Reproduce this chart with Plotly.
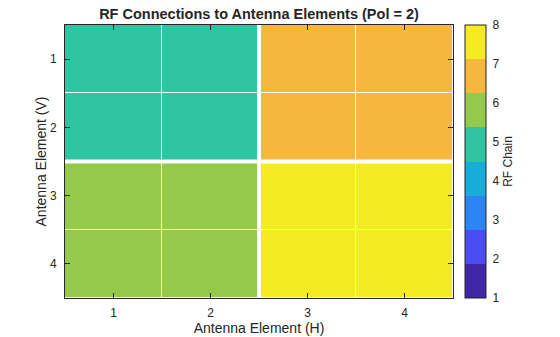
import plotly.graph_objects as go

# Data
h_elements = [1, 2, 3, 4]
v_elements = [1, 2, 3, 4]
rf_chain = [
    [5, 5, 7, 7],
    [5, 5, 7, 7],
    [6, 6, 8, 8],
    [6, 6, 8, 8],
]
cbar_ticks = [1, 2, 3, 4, 5, 6, 7, 8]
parula8 = ["#3F27A8", "#4A4DF2", "#2D85F5", "#17ADD8",
           "#2FC5A2", "#94CA4B", "#F6B83C", "#F5EB22"]

n = len(parula8)
colorscale = []
for i, c in enumerate(parula8):
    colorscale.append([i / n, c])
    colorscale.append([(i + 1) / n, c])

font_family = "Liberation Sans, Arial, Helvetica, sans-serif"
txt = "#262626"

fig = go.Figure(go.Heatmap(
    x=h_elements, y=v_elements, z=rf_chain,
    zmin=1, zmax=8, colorscale=colorscale,
    xgap=1, ygap=1,
    colorbar=dict(
        thickness=21, thicknessmode="pixels",
        len=1.0, lenmode="fraction",
        x=1.031, xanchor="left", xpad=0,
        y=0.5, yanchor="middle", ypad=0,
        outlinewidth=1, outlinecolor="#262626",
        tickvals=cbar_ticks, ticks="outside", ticklen=4,
        tickcolor="rgba(0,0,0,0)",
        tickfont=dict(size=12, color=txt, family=font_family),
        title=dict(text="RF Chain", side="right",
                   font=dict(size=12, color=txt, family=font_family)),
    ),
))

# block separators
for pos in [2.5]:
    fig.add_shape(type="line", xref="x", yref="paper", x0=pos, x1=pos, y0=0, y1=1,
                  line=dict(color="white", width=4))
    fig.add_shape(type="line", xref="paper", yref="y", x0=0, x1=1, y0=pos, y1=pos,
                  line=dict(color="white", width=4))

axis_common = dict(
    showline=True, linecolor="#262626", linewidth=1, mirror="ticks",
    ticks="inside", ticklen=5, tickcolor="#262626",
    tickfont=dict(size=12, color=txt, family=font_family),
    showgrid=False, zeroline=False, automargin=False,
    tickvals=[1, 2, 3, 4],
)

fig.update_layout(
    width=560, height=337,
    margin=dict(l=65, r=107, t=25, b=39),
    paper_bgcolor="white", plot_bgcolor="white",
    font=dict(family=font_family, color=txt),
    title=dict(text="<b>RF Connections to Antenna Elements (Pol = 2)</b>",
               x=(65 + 453) / 2 / 560, xanchor="center",
               y=1 - 14 / 337, yanchor="middle",
               font=dict(size=14.5, color=txt, family=font_family)),
    xaxis=dict(axis_common, range=[0.5, 4.5], ticklabelstandoff=4,
               title=dict(text="Antenna Element (H)", standoff=2,
                          font=dict(size=14, color=txt, family=font_family))),
    yaxis=dict(axis_common, range=[4.5, 0.5], ticklabelstandoff=5,
               title=dict(text="Antenna Element (V)", standoff=0,
                          font=dict(size=14, color=txt, family=font_family))),
)

fig.write_html("out.html")
